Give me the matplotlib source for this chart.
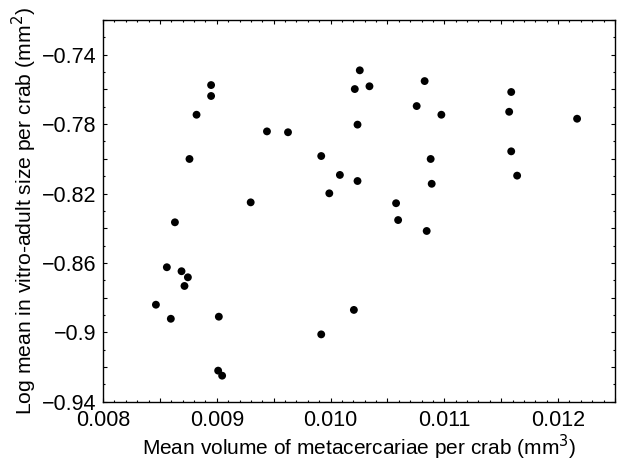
import matplotlib
matplotlib.use("Agg")
import matplotlib.pyplot as plt
from matplotlib.ticker import MultipleLocator, FuncFormatter

plt.rcParams['font.family'] = ['Liberation Sans', 'DejaVu Sans']

volume = [0.008632, 0.008760, 0.008822, 0.008950, 0.008950, 0.009298, 0.009441,
          0.009626, 0.009918, 0.010257, 0.010213, 0.010342, 0.010827, 0.010757,
          0.010974, 0.011588, 0.011570, 0.012167, 0.010237, 0.010880, 0.011588,
          0.010082, 0.010237, 0.010889, 0.011640, 0.009989, 0.010576, 0.010594,
          0.010845, 0.008561, 0.008690, 0.008746, 0.008716, 0.008465, 0.008596,
          0.009018, 0.009012, 0.009047, 0.009918, 0.010205]
logsize = [-0.8366, -0.8001, -0.7746, -0.7575, -0.7638, -0.8251, -0.7842,
           -0.7847, -0.7984, -0.7490, -0.7598, -0.7582, -0.7552, -0.7696,
           -0.7746, -0.7615, -0.7729, -0.7769, -0.7803, -0.8001, -0.7957,
           -0.8093, -0.8128, -0.8144, -0.8097, -0.8199, -0.8256, -0.8353,
           -0.8416, -0.8625, -0.8648, -0.8683, -0.8733, -0.8841, -0.8922,
           -0.8910, -0.9221, -0.9250, -0.9012, -0.8871]

xticklabels = {0.008: "0.008", 0.009: "0.009", 0.010: "0.010", 0.011: "0.011", 0.012: "0.012"}
yticklabels = {-0.94: "\u22120.94", -0.90: "\u22120.9", -0.86: "\u22120.86",
               -0.82: "\u22120.82", -0.78: "\u22120.78", -0.74: "\u22120.74"}

fig = plt.figure(figsize=(6.18, 4.63), dpi=100)
ax = fig.add_axes([0.1667, 0.1324, 0.8284, 0.8244])
ax.scatter(volume, logsize, s=32, c='black', edgecolors='none', zorder=3)

ax.set_xlim(0.008, 0.0125)
ax.set_ylim(-0.94, -0.72)

def xfmt(v, pos):
    for k, t in xticklabels.items():
        if abs(v - k) < 1e-7:
            return t
    return ""

def yfmt(v, pos):
    for k, t in yticklabels.items():
        if abs(v - k) < 1e-6:
            return t
    return ""

ax.xaxis.set_major_locator(MultipleLocator(0.0005))
ax.xaxis.set_minor_locator(MultipleLocator(0.0001))
ax.yaxis.set_major_locator(MultipleLocator(0.02))
ax.yaxis.set_minor_locator(MultipleLocator(0.01))
ax.xaxis.set_major_formatter(FuncFormatter(xfmt))
ax.yaxis.set_major_formatter(FuncFormatter(yfmt))

ax.tick_params(which='both', direction='in', top=True, right=True, labelsize=15.5, width=0.8)
ax.tick_params(which='major', length=3)
ax.tick_params(axis='x', which='major', pad=6)
ax.tick_params(axis='y', which='major', pad=5)
ax.tick_params(which='minor', length=1.5)
for s in ax.spines.values():
    s.set_linewidth(1.0)

ax.set_xlabel("Mean volume of metacercariae per crab (mm$^3$)", fontsize=15, labelpad=1.5)
ax.set_ylabel("Log mean in vitro-adult size per crab (mm$^2$)", fontsize=15.2, labelpad=2)

fig.savefig("out.png", dpi=100)
